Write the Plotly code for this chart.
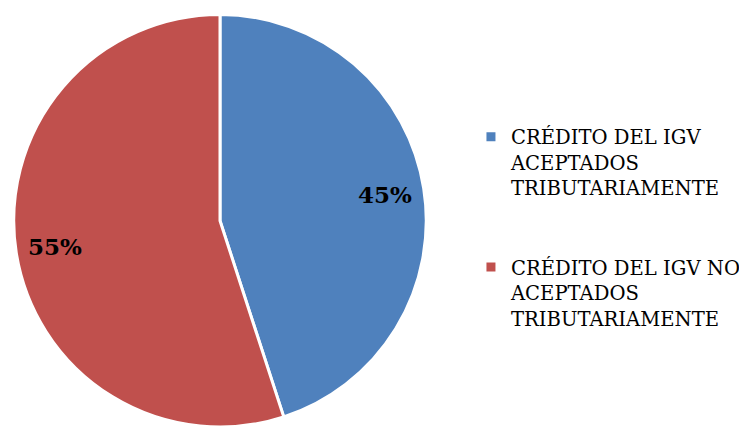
import math
import plotly.graph_objects as go

labels = ["CRÉDITO DEL IGV<br>ACEPTADOS<br>TRIBUTARIAMENTE<br> <br> ",
          "CRÉDITO DEL IGV NO<br>ACEPTADOS<br>TRIBUTARIAMENTE"]
values = [45, 55]
colors = ["#4F81BD", "#C0504D"]

W, H = 739, 427
dom_x = [0.0135, 0.5819]
dom_y = [0.0, 0.966]

fig = go.Figure(go.Pie(
    labels=labels, values=values, sort=False, direction="clockwise", rotation=0,
    marker=dict(colors=colors, line=dict(color="white", width=3)),
    textinfo="none", hoverinfo="label+percent",
    domain=dict(x=dom_x, y=dom_y),
))

# percent labels placed from the data (mid-angle of each slice)
cx = (dom_x[0] + dom_x[1]) / 2
cy = (dom_y[0] + dom_y[1]) / 2
R = min((dom_x[1] - dom_x[0]) * W, (dom_y[1] - dom_y[0]) * H) / 2
total = sum(values)
start = 0.0
for v in values:
    frac = v / total
    mid = (start + frac / 2) * 2 * math.pi
    start += frac
    r = 0.81 * R
    fig.add_annotation(
        x=cx + r * math.sin(mid) / W, y=cy + r * math.cos(mid) / H,
        xref="paper", yref="paper", xanchor="center", yanchor="middle",
        showarrow=False,
        text=f"<b>{round(frac * 100)}%</b>",
        font=dict(family="DejaVu Serif", size=23, color="black"),
    )

fig.update_layout(
    width=W, height=H, margin=dict(l=0, r=0, t=0, b=0, autoexpand=False),
    paper_bgcolor="white", plot_bgcolor="white",
    showlegend=True,
    legend=dict(x=0.6373, y=0.725, xanchor="left", yanchor="top", valign="top",
                font=dict(family="DejaVu Serif", size=19.6, color="black"),
                itemwidth=30),
)
fig.write_html("out.html", config={"displayModeBar": False},
               post_script="document.body.style.margin='0';")
